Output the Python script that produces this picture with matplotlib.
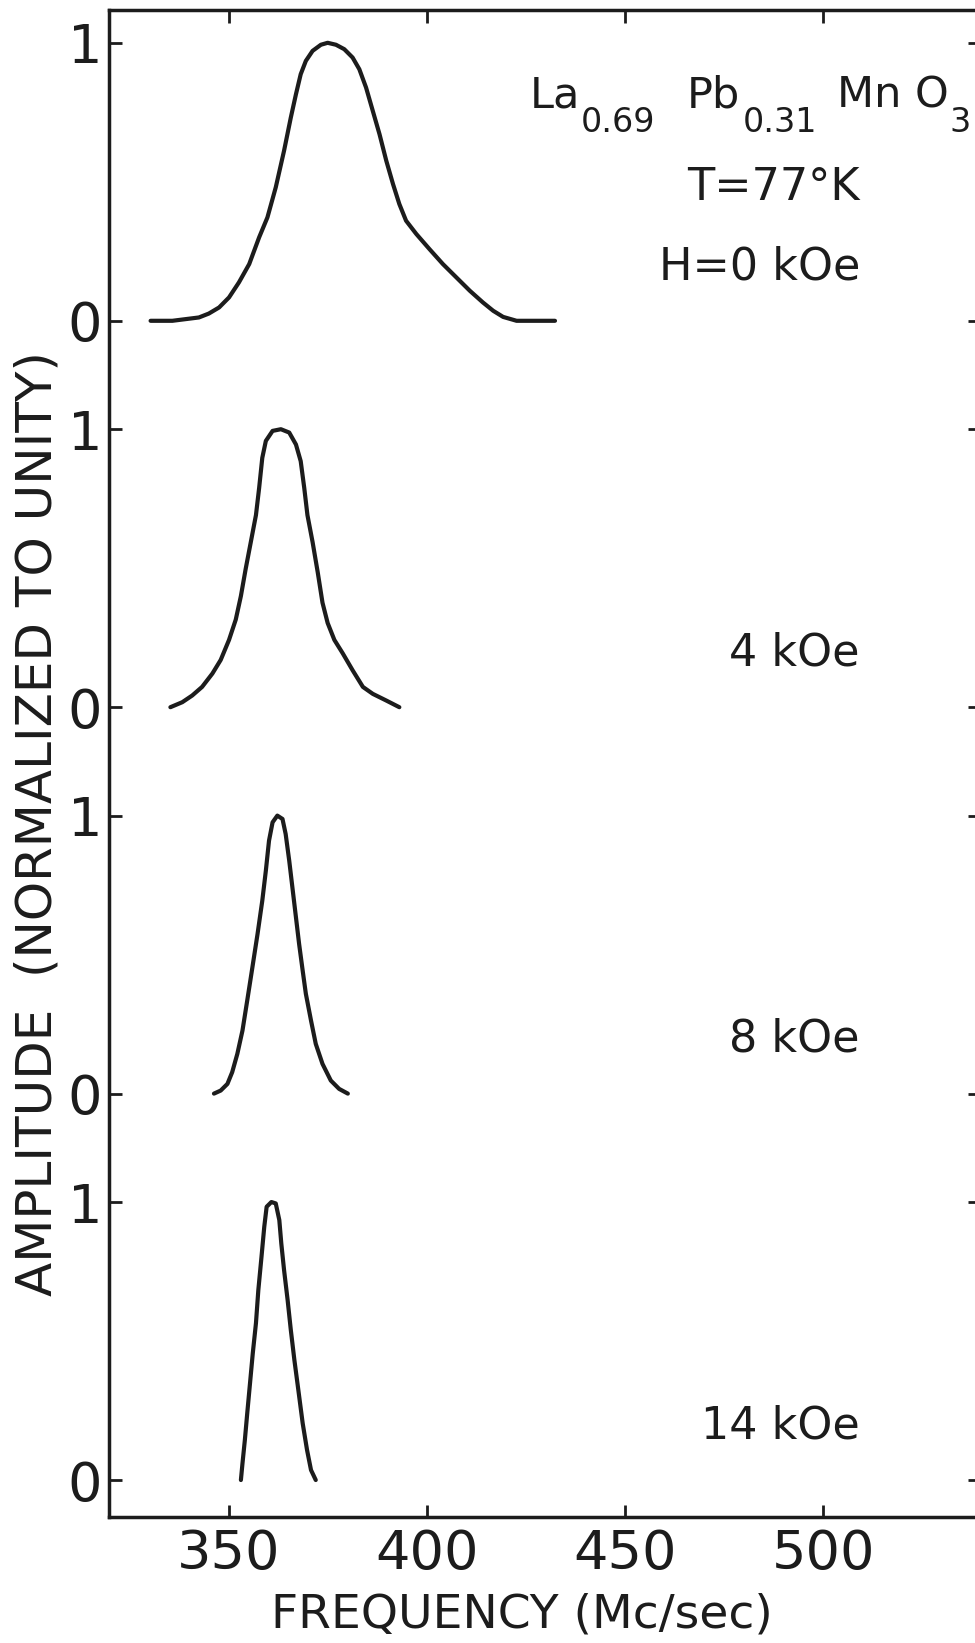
import matplotlib.pyplot as plt

# H = 0 kOe
freq_h0 = [330.2, 335.7, 342.4, 344.9, 347.5, 350.0, 352.5, 355.1, 357.6, 359.7,
           361.8, 363.9, 365.6, 366.9, 368.1, 369.4, 371.1, 373.2, 374.9, 377.0,
           379.1, 381.2, 382.9, 384.6, 386.3, 388.0, 389.7, 391.4, 393.0, 394.7,
           397.3, 400.6, 404.0, 407.4, 410.8, 414.1, 416.7, 419.2, 422.6, 432.3]
amp_h0 = [0.0, 0.0, 0.012, 0.026, 0.048, 0.084, 0.138, 0.204, 0.300, 0.372,
          0.480, 0.612, 0.731, 0.815, 0.887, 0.935, 0.971, 0.993, 1.0, 0.993,
          0.977, 0.947, 0.905, 0.839, 0.755, 0.671, 0.576, 0.492, 0.420, 0.360,
          0.312, 0.258, 0.204, 0.156, 0.108, 0.066, 0.036, 0.014, 0.0, 0.0]

# H = 4 kOe
freq_h4 = [335.2, 338.2, 340.7, 343.2, 345.8, 347.9, 350.0, 351.7, 353.0, 354.2,
           355.5, 356.8, 357.6, 358.4, 359.3, 361.0, 363.1, 365.2, 366.9, 368.1,
           369.0, 369.8, 371.1, 372.4, 373.6, 374.9, 376.6, 378.7, 381.2, 383.8,
           386.3, 389.7, 393.0]
amp_h4 = [0.0, 0.018, 0.042, 0.073, 0.121, 0.170, 0.242, 0.315, 0.400, 0.497,
          0.594, 0.691, 0.788, 0.897, 0.958, 0.994, 1.0, 0.988, 0.945, 0.885,
          0.788, 0.691, 0.594, 0.485, 0.376, 0.303, 0.242, 0.194, 0.133, 0.073,
          0.048, 0.024, 0.0]

# H = 8 kOe
freq_h8 = [346.2, 347.9, 349.6, 350.8, 352.1, 353.4, 354.6, 355.9, 357.2, 358.4,
           359.3, 360.1, 361.0, 362.2, 363.5, 364.3, 365.2, 366.0, 366.9, 367.7,
           368.6, 369.4, 370.7, 371.9, 373.6, 375.7, 377.8, 380.0]
amp_h8 = [0.0, 0.011, 0.035, 0.077, 0.143, 0.227, 0.335, 0.454, 0.574, 0.694,
          0.802, 0.910, 0.976, 1.0, 0.988, 0.934, 0.838, 0.742, 0.634, 0.538,
          0.442, 0.359, 0.263, 0.179, 0.107, 0.047, 0.017, 0.0]

# H = 14 kOe
freq_h14 = [353.0, 353.4, 354.0, 354.6, 355.3, 356.0, 356.8, 357.4, 358.2, 358.9,
            359.5, 360.7, 361.8, 362.7, 363.2, 363.9, 364.8, 365.6, 366.5, 367.5,
            368.6, 369.7, 370.7, 371.9]
amp_h14 = [0.0, 0.06, 0.144, 0.24, 0.348, 0.456, 0.564, 0.683, 0.803, 0.911,
           0.983, 1.0, 0.995, 0.935, 0.851, 0.755, 0.647, 0.540, 0.432, 0.324,
           0.204, 0.108, 0.036, 0.0]

curvas = [(freq_h0, amp_h0), (freq_h4, amp_h4), (freq_h8, amp_h8), (freq_h14, amp_h14)]
etiquetas = ['H=0 kOe', '4 kOe', '8 kOe', '14 kOe']
xticks = [350, 400, 450, 500]

paso = 1.39  # separacion vertical entre paneles
color = '#1c1c1c'

fig = plt.figure(figsize=(9.75, 16.43), dpi=100)
ax = fig.add_axes([109 / 975, 126 / 1643, 871 / 975, 1507 / 1643])

bases = []
for i, (f, a) in enumerate(curvas):
    base = paso * (len(curvas) - 1 - i)
    bases.append(base)
    ax.plot(f, [base + v for v in a], color=color, lw=3,
            solid_capstyle='round', solid_joinstyle='round')

# etiquetas de campo
for i, texto in enumerate(etiquetas):
    ax.text(509.3, bases[i] + 0.15, texto, ha='right', va='baseline',
            fontsize=32, color=color)

ax.text(509.3, bases[0] + 0.434, 'T=77°K', ha='right', va='baseline',
        fontsize=32, color=color)

# formula quimica, armada por piezas (subindices grandes y bajos)
piezas = [('La', 530, 108, 31), ('0.69', 581, 132, 24),
          ('Pb', 687, 108, 31), ('0.31', 743, 132, 24),
          ('Mn O', 837, 108, 31), ('3', 949, 132, 24)]
for txt, px, py, fs in piezas:
    fig.text(px / 975, 1 - py / 1643, txt, ha='left', va='baseline',
             fontsize=fs, color=color)

yt = []
yl = []
for b in bases:
    yt += [b, b + 1]
    yl += ['0', '1']
ax.set_yticks(yt)
ax.set_yticklabels(yl)
ax.set_xticks(xticks)
ax.set_xlim(319.7, 539.6)
ax.set_ylim(-0.133, 5.288)

ax.tick_params(direction='in', top=True, right=True, length=9, width=2,
               labelsize=39, colors=color)
ax.tick_params(axis='x', pad=8)
ax.tick_params(axis='y', pad=5)
for s in ax.spines.values():
    s.set_linewidth(2.5)
    s.set_color(color)

ax.set_xlabel('FREQUENCY (Mc/sec)', fontsize=34, color=color)
ax.xaxis.set_label_coords(0.474, -0.05)
ax.xaxis.label.set_va('top')
fig.text(38 / 975, 0.499, 'AMPLITUDE  (NORMALIZED TO UNITY)', rotation=90,
         ha='center', va='center', fontsize=36, color=color)

fig.savefig('out.png', dpi=100)
